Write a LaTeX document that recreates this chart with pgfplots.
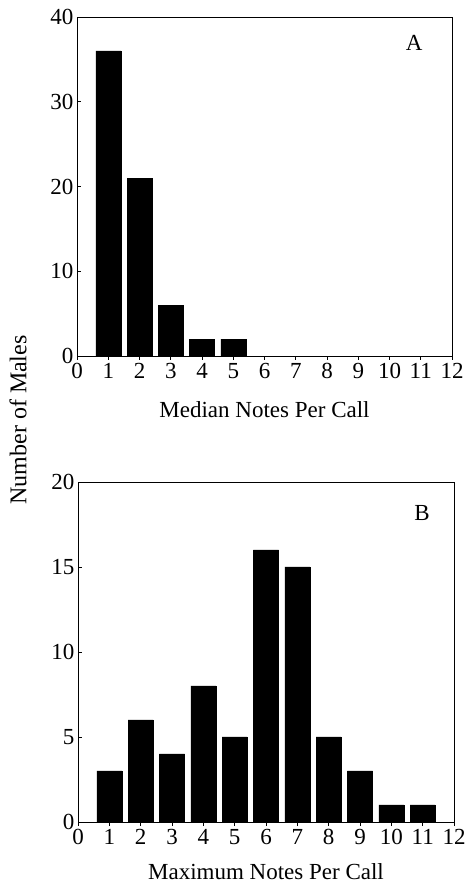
\documentclass[border=0pt]{standalone}
\usepackage{fontspec}
\setmainfont{Liberation Serif}
\usepackage{pgfplots}
\pgfplotsset{compat=1.18}
\begin{document}
\begin{tikzpicture}[x=1bp,y=1bp]
\useasboundingbox (0,0) rectangle (469,886);
\pgfplotsset{
 myax/.style={
  scale only axis,
  xmin=0, xmax=12, ymin=0,
  xtick={0,...,12},
  xtick pos=bottom, ytick pos=left,
  tick align=inside, major tick length=4bp,
  tick style={black, line width=0.6bp},
  axis line style={black, line width=0.8bp},
  /pgf/number format/assume math mode=true,
  tick label style={font=\fontsize{23bp}{27bp}\selectfont},
  label style={font=\fontsize{23bp}{27bp}\selectfont},
  ybar, bar width=0.8, bar shift=0pt,
 }}
\begin{axis}[myax, at={(77bp,530bp)}, anchor=south west,
  width=375bp, height=339bp, ymax=40, ytick={0,10,20,30,40},
  xlabel style={at={(axis description cs:0.5,0)}, anchor=center, yshift=-54bp},
  xlabel={Median Notes Per Call}]
\addplot[fill=black, draw=black] coordinates {(1,36) (2,21) (3,6) (4,2) (5,2)};
\node[font=\fontsize{23bp}{27bp}\selectfont] at (rel axis cs:0.899,0.923) {A};
\end{axis}
\begin{axis}[myax, at={(78bp,64bp)}, anchor=south west,
  width=376bp, height=340bp, ymax=20, ytick={0,5,10,15,20},
  xlabel style={at={(axis description cs:0.5,0)}, anchor=center, yshift=-50bp},
  xlabel={Maximum Notes Per Call}]
\addplot[fill=black, draw=black] coordinates {(1,3) (2,6) (3,4) (4,8) (5,5) (6,16) (7,15) (8,5) (9,3) (10,1) (11,1)};
\node[font=\fontsize{23bp}{27bp}\selectfont] at (rel axis cs:0.915,0.909) {B};
\end{axis}
\node[rotate=90, font=\fontsize{24bp}{28bp}\selectfont] at (18,466) {Number of Males};
\end{tikzpicture}
\end{document}
